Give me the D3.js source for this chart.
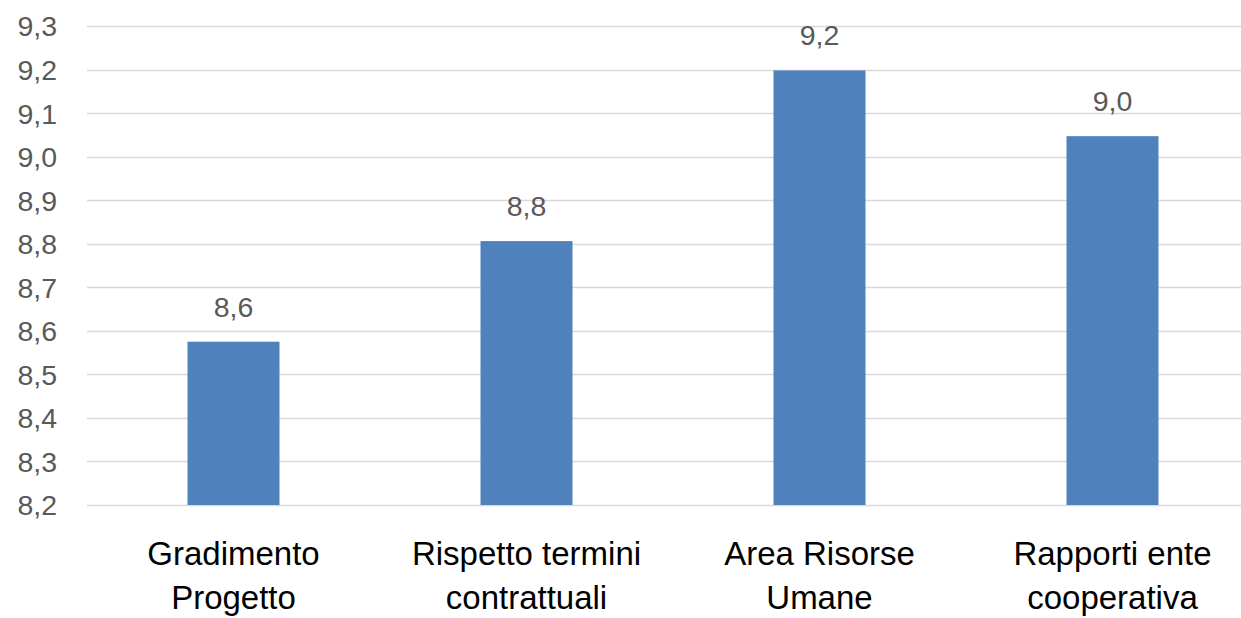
<!DOCTYPE html>
<html>
<head>
<meta charset="utf-8">
<script src="https://cdn.jsdelivr.net/npm/d3@7"></script>
<style>
  html, body { margin: 0; padding: 0; background: #fff; }
  svg { display: block; }
</style>
</head>
<body>
<svg id="chart" width="1241" height="618"></svg>
<script>
const categories = [["Gradimento", "Progetto"], ["Rispetto termini", "contrattuali"], ["Area Risorse", "Umane"], ["Rapporti ente", "cooperativa"]];
const values = [8.575, 8.806, 9.198, 9.047];
const valueLabels = ["8,6", "8,8", "9,2", "9,0"];
const yTicks = [8.2, 8.3, 8.4, 8.5, 8.6, 8.7, 8.8, 8.9, 9.0, 9.1, 9.2, 9.3];
const yTickLabels = ["8,2", "8,3", "8,4", "8,5", "8,6", "8,7", "8,8", "8,9", "9,0", "9,1", "9,2", "9,3"];

const svg = d3.select("#chart");
const font = "'Liberation Sans', Arial, sans-serif";

const x = d3.scaleBand()
  .domain(categories.map((d, i) => i))
  .range([87, 1259])
  .paddingInner(0.686)
  .paddingOuter(0.343);

const y = d3.scaleLinear().domain([8.2, 9.3]).range([505, 26]);

// gridlines
svg.append("g").selectAll("line").data(yTicks).join("line")
  .attr("x1", 87).attr("x2", 1241)
  .attr("y1", d => Math.round(y(d)) + 0.5).attr("y2", d => Math.round(y(d)) + 0.5)
  .attr("stroke", "#D9D9D9").attr("stroke-width", 1.5);

// y tick labels via axis
const yAxis = d3.axisLeft(y).tickValues(yTicks).tickFormat((d, i) => yTickLabels[i]).tickSize(0).tickPadding(0);
const ya = svg.append("g").attr("transform", "translate(57,0)").call(yAxis);
ya.select(".domain").remove();
ya.selectAll("text")
  .attr("font-family", font).attr("font-size", 28.5).attr("fill", "#595959")
  .attr("dy", "0.35em");

// bars
svg.append("g").selectAll("rect").data(values).join("rect")
  .attr("x", (d, i) => x(i))
  .attr("width", x.bandwidth())
  .attr("y", d => y(d))
  .attr("height", d => y(8.2) - y(d))
  .attr("fill", "#4F81BD");

// value labels
svg.append("g").selectAll("text").data(values).join("text")
  .attr("x", (d, i) => x(i) + x.bandwidth() / 2)
  .attr("y", d => y(d) - 25)
  .attr("text-anchor", "middle")
  .attr("font-family", font).attr("font-size", 28.5).attr("fill", "#595959")
  .text((d, i) => valueLabels[i]);

// category labels
const cat = svg.append("g").selectAll("text").data(categories).join("text")
  .attr("text-anchor", "middle")
  .attr("font-family", font).attr("font-size", 33).attr("fill", "#000");
cat.each(function(d, i) {
  const t = d3.select(this);
  d.forEach((line, j) => {
    t.append("tspan")
      .attr("x", x(i) + x.bandwidth() / 2)
      .attr("y", 565 + j * 44)
      .text(line);
  });
});
</script>
</body>
</html>
